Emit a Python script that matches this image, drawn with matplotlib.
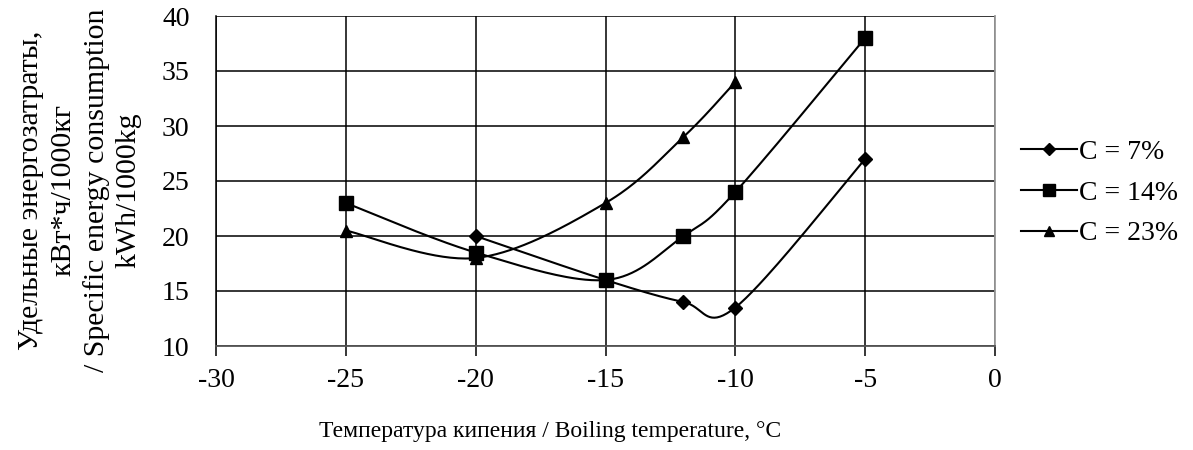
import numpy as np
import matplotlib
matplotlib.use("Agg")
import matplotlib.pyplot as plt
from matplotlib.lines import Line2D

plt.rcParams['font.family'] = ['Liberation Serif', 'DejaVu Serif']

x7 = [-20, -15, -12, -10, -5]
y7 = [20, 16, 14, 13.5, 27]
x14 = [-25, -20, -15, -12, -10, -5]
y14 = [23, 18.5, 16, 20, 24, 38]
x23 = [-25, -20, -15, -12, -10]
y23 = [20.5, 18, 23, 29, 34]
labels = ['C = 7%', 'C = 14%', 'C = 23%']
markers = ['D', 's', '^']
msizes = [7, 9.5, 9]
xticks = [-30, -25, -20, -15, -10, -5, 0]
yticks = [10, 15, 20, 25, 30, 35, 40]

fig = plt.figure(figsize=(11.93, 4.5), dpi=100)
ax = fig.add_axes([216/1193, 1-346/450, (995-216)/1193, (346-16)/450])
ax.set_xlim(-30, 0)
ax.set_ylim(10, 40)

sx = 779/30.0
sy = 330/30.0

def smooth(xs, ys, n=40):
    P = np.column_stack([np.array(xs, float)*sx, np.array(ys, float)*sy])
    out = []
    m = len(P)
    for i in range(m-1):
        p0 = P[i-1] if i > 0 else P[i]
        p1 = P[i]
        p2 = P[i+1]
        p3 = P[i+2] if i+2 < m else P[i+1]
        c1 = p1 + (p2 - p0)/6.0
        c2 = p2 - (p3 - p1)/6.0
        t = np.linspace(0, 1, n)[:, None]
        B = (1-t)**3*p1 + 3*(1-t)**2*t*c1 + 3*(1-t)*t**2*c2 + t**3*p2
        out.append(B if i == 0 else B[1:])
    B = np.vstack(out)
    return B[:, 0]/sx, B[:, 1]/sy

for xs, ys, mk, ms in zip([x7, x14, x23], [y7, y14, y23], markers, msizes):
    cx, cy = smooth(xs, ys)
    ax.plot(cx, cy, color='black', lw=1.5, zorder=3)
    ax.plot(xs, ys, linestyle='none', marker=mk, ms=ms, color='black', zorder=4)

ax.set_xticks(xticks)
ax.set_yticks(yticks)
ax.set_xticklabels([str(v) for v in xticks], fontsize=20)
ax.set_yticklabels([str(v) for v in yticks], fontsize=20)
ax.grid(True, color='black', lw=1.1)
ax.set_axisbelow(True)
ax.tick_params(axis='x', direction='out', length=7, width=1.1, color='black', pad=9)
ax.tick_params(axis='y', length=0, pad=19)
ax.spines['left'].set_color('black')
ax.spines['left'].set_linewidth(1.1)
ax.spines['bottom'].set_color('#555555')
ax.spines['bottom'].set_linewidth(1.3)
ax.spines['top'].set_visible(False)
ax.spines['right'].set_color('#999999')
ax.spines['right'].set_linewidth(1.3)

fig.text(550/1193, 1-432/450, 'Температура кипения / Boiling temperature, °C',
         ha='center', va='center', fontsize=17)

fig.text(80/1193, 1-190/450, 'Удельные энергозатраты,\nкВт*ч/1000кг\n/ Specific energy consumption\nkWh/1000kg',
         rotation=90, ha='center', va='center', fontsize=21.5, linespacing=1.3, multialignment='center')

handles = [Line2D([0], [0], color='black', lw=1.5, marker=m, ms=s*0.85) for m, s in zip(markers, msizes)]
fig.legend(handles, labels, loc='center left', bbox_to_anchor=(1021/1193, 1-193/450),
           frameon=False, fontsize=20, handlelength=2.0, handletextpad=0.1, labelspacing=0.55,
           borderpad=0, borderaxespad=0)

fig.savefig('out.png', dpi=100)
